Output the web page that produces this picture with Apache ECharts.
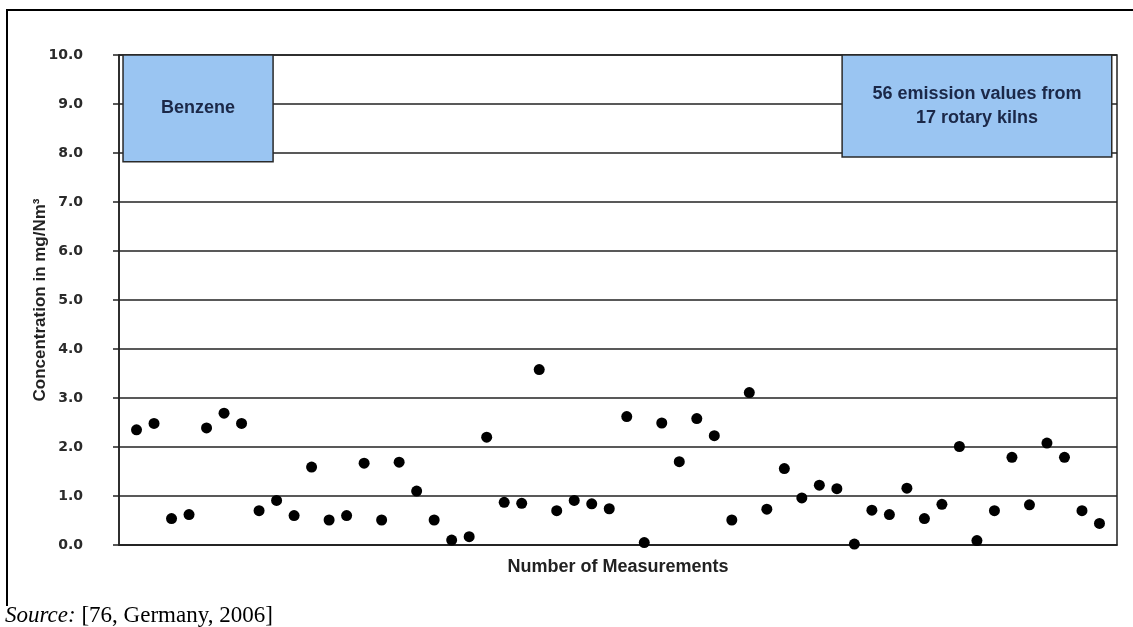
<!DOCTYPE html>
<html>
<head>
<meta charset="utf-8">
<script src="https://cdn.jsdelivr.net/npm/echarts@6/dist/echarts.min.js"></script>
<style>
html,body{margin:0;padding:0;background:#fff;}
#chart{width:1133px;height:627px;}
</style>
</head>
<body>
<div id="chart"></div>
<script>
// Benzene concentration per measurement (mg/Nm3), measurements 1..56
const benzeneValues = [2.35,2.48,0.54,0.62,2.39,2.69,2.48,0.70,0.91,0.60,
  1.59,0.51,0.60,1.67,0.51,1.69,1.10,0.51,0.10,0.17,
  2.20,0.87,0.85,3.58,0.70,0.91,0.84,0.74,2.62,0.05,
  2.49,1.70,2.58,2.23,0.51,3.11,0.73,1.56,0.96,1.22,
  1.15,0.02,0.71,0.62,1.16,0.54,0.83,2.01,0.09,0.70,
  1.79,0.82,2.08,1.79,0.70,0.44];
const yTickLabels = ['0.0','1.0','2.0','3.0','4.0','5.0','6.0','7.0','8.0','9.0','10.0'];
const yAxisTitle = 'Concentration in mg/Nm³';
const xAxisTitle = 'Number of Measurements';
const boxLeftText = 'Benzene';
const boxRightText = '56 emission values from\n17 rotary kilns';
const sourceLabel = 'Source:';
const sourceRef = ' [76, Germany, 2006]';

const points = benzeneValues.map((v, i) => [i + 1, v]);

const chart = echarts.init(document.getElementById('chart'), null, {renderer: 'canvas'});
const boxStyle = {color: '#9ac5f2', borderColor: '#2a2a2a', borderWidth: 1.5, opacity: 1};
const boxLabel = {show: true, position: 'inside', fontFamily: 'Liberation Sans, Arial, sans-serif',
  fontWeight: 'bold', fontSize: 18, color: '#1b2848', lineHeight: 24};

chart.setOption({
  animation: false,
  backgroundColor: '#fff',
  grid: {left: 119, right: 16, top: 55, bottom: 82, show: true, borderColor: '#222', borderWidth: 1.5, backgroundColor: 'transparent'},
  xAxis: {
    type: 'value', min: 0, max: 57,
    name: xAxisTitle, nameLocation: 'middle', nameGap: 13,
    nameTextStyle: {fontFamily: 'Liberation Sans, Arial, sans-serif', fontWeight: 'bold', fontSize: 18, color: '#222'},
    axisLine: {show: true, lineStyle: {color: '#222', width: 1.5}},
    axisTick: {show: false}, axisLabel: {show: false}, splitLine: {show: false}
  },
  yAxis: {
    type: 'value', min: 0, max: 10, interval: 1,
    name: yAxisTitle, nameLocation: 'middle', nameGap: 70, nameRotate: 90, nameMoveOverlap: false,
    nameTextStyle: {fontFamily: 'Liberation Sans, Arial, sans-serif', fontWeight: 'bold', fontSize: 17, color: '#222'},
    axisLine: {show: true, lineStyle: {color: '#222', width: 1.5}},
    axisTick: {show: true, length: 6, lineStyle: {color: '#222', width: 1.5}},
    axisLabel: {margin: 36, fontFamily: 'DejaVu Sans, sans-serif', fontWeight: 'bold', fontSize: 14, color: '#2a2a2a',
      formatter: (v) => yTickLabels[Math.round(v)]},
    splitLine: {show: true, lineStyle: {color: '#222', width: 1.5}}
  },
  series: [{
    type: 'scatter',
    data: points,
    symbol: 'circle',
    symbolSize: 11,
    itemStyle: {color: '#000', opacity: 1},
    z: 5,
    markArea: {
      silent: true,
      data: [
        [{coord: [0.23, 10], itemStyle: boxStyle, label: boxLabel, name: boxLeftText}, {coord: [8.8, 7.82]}],
        [{coord: [41.3, 10], itemStyle: boxStyle, label: boxLabel, name: boxRightText}, {coord: [56.7, 7.92]}]
      ]
    }
  }],
  graphic: [
    {type: 'polyline', shape: {points: [[7, 606], [7, 10], [1133, 10]]}, style: {stroke: '#000', lineWidth: 2, fill: null}},
    {type: 'text', left: 5, top: 604, style: {
      text: '{i|' + sourceLabel + '}{r|' + sourceRef + '}',
      rich: {
        i: {fontFamily: 'Liberation Serif, Times New Roman, serif', fontStyle: 'italic', fontSize: 23, fill: '#000'},
        r: {fontFamily: 'Liberation Serif, Times New Roman, serif', fontSize: 23, fill: '#000'}
      }
    }}
  ]
});
</script>
</body>
</html>
